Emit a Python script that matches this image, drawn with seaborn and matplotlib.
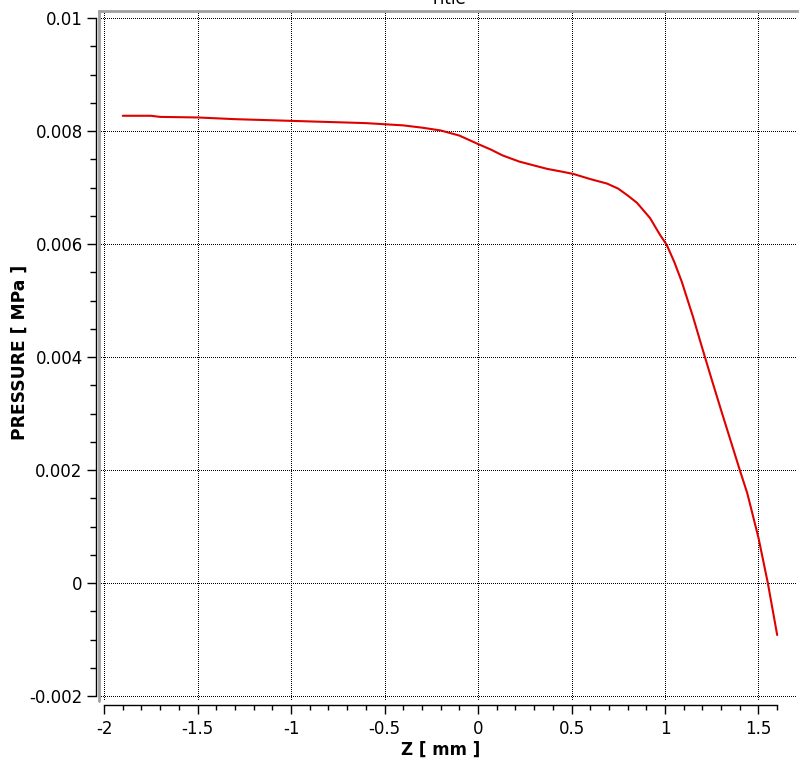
import numpy as np
import pandas as pd
import seaborn as sns
import matplotlib.pyplot as plt
from matplotlib.ticker import FixedLocator

# curve values
z_mm = [-1.90, -1.75, -1.70, -1.50, -1.30, -1.10, -1.00, -0.80, -0.60, -0.50,
        -0.40, -0.30, -0.20, -0.10, -0.04, 0.00, 0.07, 0.13, 0.22, 0.30,
        0.37, 0.45, 0.51, 0.60, 0.69, 0.75, 0.80, 0.85, 0.92, 0.97,
        1.01, 1.05, 1.09, 1.15, 1.20, 1.25, 1.30, 1.40, 1.44, 1.50, 1.55, 1.60]
pressure = [0.00827, 0.00827, 0.00825, 0.00824, 0.00821, 0.00819, 0.00818, 0.00816, 0.00814, 0.00812,
            0.00810, 0.00806, 0.00801, 0.00792, 0.00783, 0.00777, 0.00767, 0.00757, 0.00746, 0.00739,
            0.00733, 0.00728, 0.00724, 0.00715, 0.00707, 0.00698, 0.00686, 0.00673, 0.00646, 0.00618,
            0.00598, 0.00568, 0.00533, 0.00471, 0.00415, 0.00360, 0.00306, 0.00200, 0.00159, 0.00080, 0.00000, -0.00092]

x_ticks = [-2, -1.5, -1, -0.5, 0, 0.5, 1, 1.5]
x_tick_labels = ["-2", "-1.5", "-1", "-0.5", "0", "0.5", "1", "1.5"]
y_ticks = [-0.002, 0, 0.002, 0.004, 0.006, 0.008, 0.01]
y_tick_labels = ["-0.002", "0", "0.002", "0.004", "0.006", "0.008", "0.01"]

df = pd.DataFrame({"z": z_mm, "p": pressure})

sns.set_style("white")
plt.rcParams["font.family"] = ["DejaVu Sans"]

fig = plt.figure(figsize=(8, 7.63), dpi=100)
ax = fig.add_axes([0.12375, 0.08126, 0.8725, 0.9043])

sns.lineplot(data=df, x="z", y="p", sort=False, estimator=None,
             color="#e00000", linewidth=1.5, ax=ax)

ax.set_xlim(-2.027, 1.706)
ax.set_ylim(-0.002088, 0.010124)

ax.xaxis.set_major_locator(FixedLocator(x_ticks))
ax.xaxis.set_minor_locator(FixedLocator(np.round(np.arange(-2, 1.65, 0.1), 2)))
ax.set_xticklabels(x_tick_labels)
ax.yaxis.set_major_locator(FixedLocator(y_ticks))
ax.yaxis.set_minor_locator(FixedLocator(np.round(np.arange(-0.002, 0.0101, 0.0005), 5)))
ax.set_yticklabels(y_tick_labels)

ax.tick_params(axis="both", which="major", direction="out", length=6.5, width=1,
               color="black", labelsize=12, labelcolor="black")
ax.tick_params(axis="x", which="major", pad=4)
ax.tick_params(axis="y", which="major", pad=3)
ax.tick_params(axis="x", which="minor", direction="out", length=3.3, width=1, color="black")
ax.tick_params(axis="y", which="minor", direction="out", length=4.3, width=1, color="black")
ax.tick_params(bottom=True, left=True, top=False, right=False, which="both")

ax.grid(True, which="major", color="black", linestyle=(0, (1, 2)), linewidth=0.72,
        antialiased=False)

ax.spines["bottom"].set_position(("outward", 2.9))
ax.spines["bottom"].set_bounds(-2, 1.6)
ax.spines["bottom"].set_color("black")
ax.spines["bottom"].set_linewidth(1)
ax.spines["left"].set_position(("outward", 2.2))
ax.spines["left"].set_bounds(-0.002, 0.01)
ax.spines["left"].set_color("black")
ax.spines["left"].set_linewidth(1)
ax.spines["right"].set_visible(False)
ax.spines["top"].set_color("#a0a0a0")
ax.spines["top"].set_linewidth(2)
# gray frame on the left edge of the plot area
ax.plot([0, 0], [0, 1], transform=ax.transAxes, color="#a0a0a0", linewidth=2, clip_on=False)

ax.set_xlabel("Z [ mm ]", fontsize=12, fontweight="bold", color="black")
ax.set_ylabel("PRESSURE [ MPa ]", fontsize=12.3, fontweight="bold", color="black")
ax.xaxis.set_label_coords(0.49, -0.058)
ax.yaxis.set_label_coords(-0.101, 0.505)
ax.set_title("Title", fontsize=12, pad=5.3, color="black")

fig.savefig("out.png", dpi=100)
